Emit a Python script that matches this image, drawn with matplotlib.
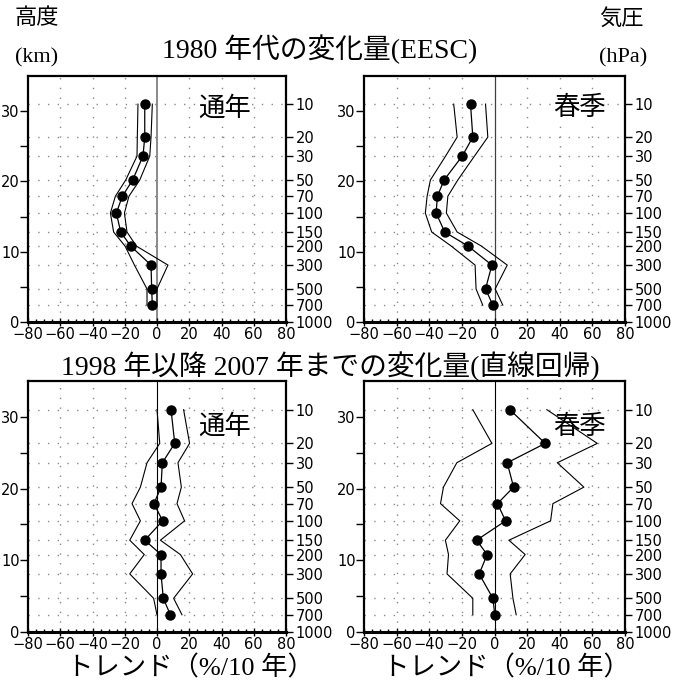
import matplotlib
matplotlib.use("Agg")
import matplotlib.pyplot as plt

# ---------------- data ----------------
pressure_levels = [10, 20, 30, 50, 70, 100, 150, 200, 300, 500, 700]
altitude_km = [31.0, 26.3, 23.6, 20.2, 17.9, 15.5, 12.8, 10.8, 8.1, 4.7, 2.4]
pressure_ticks = [10, 20, 30, 50, 70, 100, 150, 200, 300, 500, 700, 1000]
pressure_tick_km = [31.0, 26.3, 23.6, 20.2, 17.9, 15.5, 12.8, 10.8, 8.1, 4.7, 2.4, 0.0]
x_ticks = [-80, -60, -40, -20, 0, 20, 40, 60, 80]
km_ticks = [0, 10, 20, 30]

eesc_annual = [-7.6, -7.6, -8.7, -15.1, -21.5, -25.2, -22.5, -16.3, -3.7, -3.3, -2.9]
eesc_annual_lo = [-11.8, -12.2, -12.4, -19.4, -25.8, -28.9, -26.9, -19.8, -14.0, -6.2, -6.2]
eesc_annual_hi = [-2.9, -3.7, -4.5, -10.7, -17.4, -20.2, -18.6, -12.8, 6.8, 0.0, 0.0]

eesc_spring = [-14.7, -13.3, -19.8, -30.9, -35.0, -35.8, -30.5, -16.2, -1.6, -5.5, -1.0]
eesc_spring_lo = [-25.0, -22.9, -30.0, -39.3, -41.3, -42.4, -38.5, -26.5, -11.9, -11.3, -7.2]
eesc_spring_hi = [-5.5, -4.1, -12.3, -22.5, -28.6, -29.5, -22.9, -8.0, 7.8, 0.4, 5.1]

trend_annual = [8.7, 11.0, 3.3, 2.5, -1.9, 3.5, -7.6, 2.5, 2.5, 3.9, 8.3]
trend_annual_lo = [0.0, 1.7, -6.2, -10.3, -15.5, -10.3, -16.9, -7.9, -16.9, -2.1, 0.0]
trend_annual_hi = [16.5, 20.2, 13.0, 15.1, 12.4, 17.1, 2.1, 14.5, 22.1, 10.3, 15.5]

trend_spring = [9.4, 31.1, 7.8, 11.7, 1.8, 6.8, -11.0, -4.5, -9.4, -1.0, 0.2]
trend_spring_lo = [-13.3, -1.6, -23.1, -31.3, -33.1, -21.3, -30.1, -28.2, -29.1, -13.3, -13.3]
trend_spring_hi = [32.1, 63.0, 38.5, 54.8, 35.8, 34.4, 8.8, 18.8, 9.6, 11.3, 13.3]

title_top = "1980 年代の変化量(EESC)"
title_bottom = "1998 年以降 2007 年までの変化量(直線回帰)"
label_annual = "通年"
label_spring = "春季"
xlabel = "トレンド（%/10 年）"

# ---------------- figure ----------------
plt.rcParams['font.family'] = ['DejaVu Sans']
SERIF = ['Liberation Serif', 'Noto Sans CJK JP']
W, H = 680, 682
fig = plt.figure(figsize=(W / 100, H / 100), dpi=100)


def add_axes(l, t, r, b):
    return fig.add_axes([l / W, 1 - b / H, (r - l) / W, (b - t) / H])


panels = [
    ((28, 76, 286, 322), eesc_annual, eesc_annual_lo, eesc_annual_hi, label_annual, (42, 30.4), '#808080', 1.3),
    ((364, 76, 625, 322), eesc_spring, eesc_spring_lo, eesc_spring_hi, label_spring, (52, 30.4), '#404040', 0.9),
    ((28, 381, 286, 632), trend_annual, trend_annual_lo, trend_annual_hi, label_annual, (42, 28.6), 'black', 0.8),
    ((364, 381, 625, 632), trend_spring, trend_spring_lo, trend_spring_hi, label_spring, (52, 28.6), 'black', 0.8),
]

grid_kw = dict(color='#8a8a8a', lw=1.0, ls=(0, (1, 6)), zorder=0.5)
TS = 10.5

for rect, mean, lo, hi, lab, labpos, zc, zlw in panels:
    ax = add_axes(*rect)
    ax.set_xlim(-80, 80)
    ax.set_ylim(0, 35)
    for x in x_ticks[1:-1]:
        if x != 0:
            ax.axvline(x, **grid_kw)
    for z in altitude_km:
        ax.axhline(z, **grid_kw)
    ax.axvline(0, color=zc, lw=zlw, zorder=1)
    ax.text(labpos[0], labpos[1], lab, family=SERIF, fontsize=19, ha='center', va='center',
            zorder=1.5, bbox=dict(facecolor='white', edgecolor='none', pad=1))
    ax.plot(lo, altitude_km, color='black', lw=0.8, zorder=3)
    ax.plot(hi, altitude_km, color='black', lw=0.8, zorder=3)
    ax.plot(mean, altitude_km, color='black', lw=0.9, marker='o', ms=6.5, zorder=4)

    ax.set_xticks(x_ticks)
    ax.set_xticks(range(-80, 81, 5), minor=True)
    ax.tick_params(axis='x', which='major', direction='inout', length=6, width=1.0,
                   labelsize=TS, pad=0.5, top=False)
    ax.tick_params(axis='x', which='minor', direction='in', length=2.5, width=1.0, top=False)
    ax.set_yticks(km_ticks)
    ax.set_yticks([5, 15, 25], minor=True)
    ax.tick_params(axis='y', which='both', direction='out', length=5.5, width=1.0,
                   labelsize=TS, pad=0.5, right=False)
    for s in ax.spines.values():
        s.set_linewidth(1.6)
    ax.spines['bottom'].set_linewidth(2.2)

    tw = ax.twinx()
    tw.set_ylim(0, 35)
    tw.set_yticks(pressure_tick_km)
    tw.set_yticklabels([str(p) for p in pressure_ticks])
    tw.tick_params(axis='y', direction='out', length=5, width=1.0, labelsize=TS, pad=2)
    for s in tw.spines.values():
        s.set_visible(False)


def ftext(x, y, s, size, ha='left'):
    fig.text(x / W, 1 - y / H, s, family=SERIF, fontsize=size, ha=ha, va='center')


ftext(15, 19, "高度", 16)
ftext(15, 58, "(km)", 16)
ftext(599, 19, "気圧", 16)
ftext(599, 58, "(hPa)", 16)
ftext(320, 49, title_top, 20, ha='center')
ftext(330, 366, title_bottom, 20, ha='center')
ftext(190, 668, xlabel, 19, ha='center')
ftext(506, 668, xlabel, 19, ha='center')

fig.savefig("out.png", dpi=100)
